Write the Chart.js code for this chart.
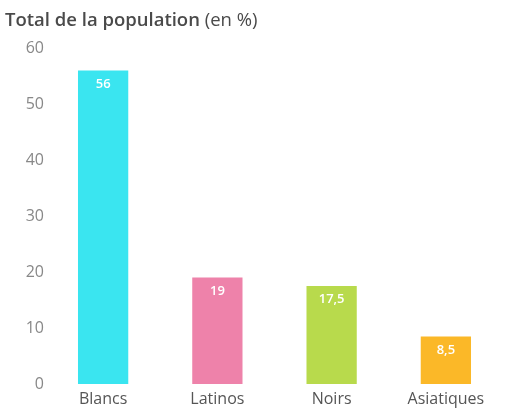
<!DOCTYPE html>
<html>
<head>
<meta charset="utf-8">
<script src="https://cdn.jsdelivr.net/npm/chart.js@4"></script>
<style>
  body { margin: 0; background: #fff; }
  #wrap { position: relative; width: 529px; height: 411px; }
  #title {
    position: absolute; left: 5px; top: 6px;
    font-family: 'Open Sans', sans-serif; font-size: 18.5px; color: #4a4a4a;
  }
  #title b { font-weight: 600; }
</style>
</head>
<body>
<div id="wrap">
  <div id="title"><b>Total de la population</b> (en %)</div>
  <canvas id="chart" width="529" height="411"></canvas>
</div>
<script>
const categories = ['Blancs', 'Latinos', 'Noirs', 'Asiatiques']
const shares = [56, 19, 17.5, 8.5]
const barColors = ['#3ae5f0', '#ee82aa', '#b8da4c', '#fbb828']
const yTicks = [0, 10, 20, 30, 40, 50, 60]

// valeurs en blanc dans le haut des barres
const valueLabels = {
  id: 'valueLabels',
  afterDatasetsDraw(chart) {
    const ctx = chart.ctx
    const meta = chart.getDatasetMeta(0)
    ctx.save()
    ctx.fillStyle = '#fff'
    ctx.font = '600 13px "Open Sans", sans-serif'
    ctx.textAlign = 'center'
    ctx.textBaseline = 'top'
    meta.data.forEach((bar, i) => {
      ctx.fillText(String(shares[i]).replace('.', ','), bar.x, bar.y + 7)
    })
    ctx.restore()
  }
}

const ctx = document.getElementById('chart').getContext('2d')
const myChart = new Chart(ctx, {
  type: 'bar',
  data: {
    labels: categories,
    datasets: [{
      data: shares,
      backgroundColor: barColors,
      borderWidth: 0,
      barPercentage: 1,
      categoryPercentage: 0.44
    }]
  },
  options: {
    responsive: false,
    animation: false,
    layout: { padding: { top: 48, right: 26, left: 26, bottom: 0 } },
    plugins: { legend: { display: false }, tooltip: { enabled: false } },
    scales: {
      x: {
        afterFit(scale) { scale.height = 27 },
        grid: { display: false, drawTicks: false },
        border: { display: false },
        ticks: {
          color: '#555',
          font: { family: 'Open Sans', size: 16 },
          padding: 6,
          maxRotation: 0
        }
      },
      y: {
        min: 0,
        max: 60,
        afterBuildTicks(scale) {
          scale.ticks = yTicks.map(v => ({ value: v }))
        },
        afterFit(scale) { scale.width = 20 },
        grid: { display: false, drawTicks: false },
        border: { display: false },
        ticks: {
          color: '#888',
          font: { family: 'Open Sans', size: 16 },
          padding: 2
        }
      }
    }
  },
  plugins: [valueLabels]
})
</script>
</body>
</html>
